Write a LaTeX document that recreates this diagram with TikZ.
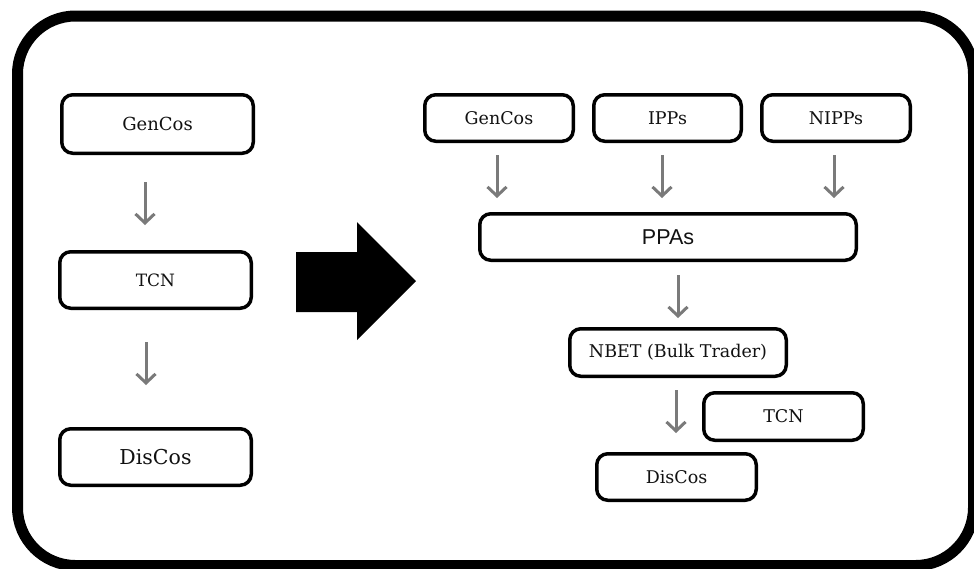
\documentclass[tikz,border=0pt]{standalone}
\usepackage{fontspec}
\setmainfont{DejaVu Serif}
\newfontfamily\sansf{Liberation Sans}
\usetikzlibrary{arrows.meta,calc}
\definecolor{arrgray}{HTML}{7A7A7A}
\definecolor{txt}{HTML}{111111}
\begin{document}
\begin{tikzpicture}[x=1pt,y=-1pt,
  box/.style={draw=black, line width=3.5pt, rounded corners=11pt, inner sep=0pt, text=txt,
    font=\fontsize{17.5}{21}\selectfont},
  arr/.style={draw=arrgray, line width=3pt, -{Straight Barb[length=9pt,width=19pt,line width=3pt]}},
  frame/.style={draw=black, line width=11pt, rounded corners=58pt},
  bigarrow/.style={fill=black}]
\clip (0,0) rectangle (974,568);
\fill[white] (0,0) rectangle (974,568);
\draw[frame] (17.5,16) rectangle (973.5,565.5);

% left column
\node[box, minimum width=191.5pt, minimum height=58.5pt, font=\fontsize{18}{21}\selectfont] (g1) at (157.5,124) {GenCos};
\node[box, minimum width=191.5pt, minimum height=56.5pt, font=\fontsize{17}{20}\selectfont] (t1) at (155.5,280) {TCN};
\node[box, minimum width=191.5pt, minimum height=56.5pt, font=\fontsize{20.5}{24}\selectfont] (d1) at (155.5,457) {DisCos};

\draw[arr] ($(g1.south)+(-12.5,27)$) -- ($(t1.north)+(-10.5,-25)$);
\draw[arr] ($(t1.south)+(-9.5,32)$) -- ($(d1.north)+(-9.5,-42)$);

% big arrow
\fill[bigarrow] (296,252) -- (357,252) -- (357,222) -- (416,281) -- (357,340) -- (357,312) -- (296,312) -- cycle;

% right side
\node[box, minimum width=148.5pt, minimum height=46.5pt] (g2) at (499,118) {GenCos};
\node[box, minimum width=147.5pt, minimum height=46.5pt] (ipp) at (667.5,118) {IPPs};
\node[box, minimum width=148.5pt, minimum height=46.5pt] (nipp) at (836,118) {NIPPs};
\node[box, minimum width=376.5pt, minimum height=46.5pt, font=\sansf\fontsize{21.5}{25}\selectfont] (ppa) at (668,237) {PPAs};
\node[box, minimum width=216.5pt, minimum height=47.5pt] (nbet) at (678,352.5) {NBET (Bulk Trader)};
\node[box, minimum width=159.5pt, minimum height=47.5pt] (t2) at (783.5,416.5) {TCN};
\node[box, minimum width=159.5pt, minimum height=46.5pt] (d2) at (676.5,477) {DisCos};

\coordinate (s1) at ($(g2.south)+(-2,12)$);
\coordinate (s2) at ($(ipp.south)+(-5.5,12)$);
\coordinate (s3) at ($(nipp.south)+(-2,12)$);
\draw[arr] (s1) -- ($(s1 |- ppa.north)+(0,-14)$);
\draw[arr] (s2) -- ($(s2 |- ppa.north)+(0,-14)$);
\draw[arr] (s3) -- ($(s3 |- ppa.north)+(0,-14)$);
\draw[arr] ($(ppa.south)+(10,13)$) -- ($(nbet.north)+(0,-9)$);
\draw[arr] ($(nbet.south)+(-2,12)$) -- ($(d2.north)+(-0.5,-19)$);
\end{tikzpicture}
\end{document}
